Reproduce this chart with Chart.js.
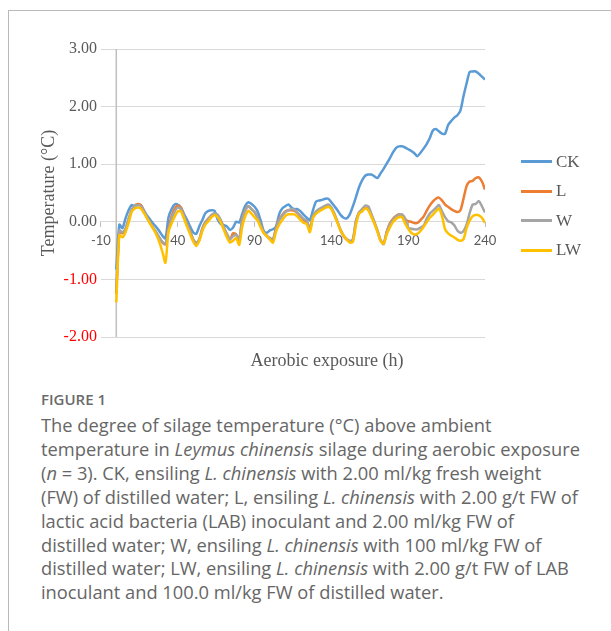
<!DOCTYPE html>
<html>
<head>
<meta charset="utf-8">
<script src="https://cdn.jsdelivr.net/npm/chart.js@4.4.1/dist/chart.umd.min.js"></script>
<style>
  html, body { margin: 0; padding: 0; background: #fff; width: 611px; height: 631px; overflow: hidden; }
  #frame { position: absolute; left: 8px; top: 10px; width: 800px; height: 800px;
           border-left: 1px solid #b9b9b9; border-top: 1px solid #b9b9b9; }
  #chart { position: absolute; left: 0; top: 0; }
  #legend { position: absolute; left: 521px; top: 147px; font-family: "Liberation Serif", serif;
            font-size: 17px; color: #595959; }
  .row { height: 29.5px; display: flex; align-items: center; }
  .swatch { width: 31px; height: 3px; margin-right: 4px; }
  #xTitle { position: absolute; left: 227px; width: 200px; top: 349px; text-align: center;
            font-family: "Liberation Serif", serif; font-size: 18px; line-height: 22px; color: #595959; }
  #caption { position: absolute; left: 41px; top: 389px; font-family: "Open Sans", sans-serif; white-space: nowrap; }
  #caption .fig { font-size: 15px; font-weight: 600; line-height: 20px; color: #6b6b6b; }
  #caption .txt { margin-top: 4px; font-size: 18.3px; line-height: 23.9px; color: #666; }
</style>
</head>
<body>
<div id="frame"></div>
<canvas id="chart" width="611" height="380"></canvas>
<div id="legend"></div>
<div id="xTitle">Aerobic exposure (h)</div>
<div id="caption">
  <div class="fig">FIGURE 1</div>
  <div class="txt">
    The degree of silage temperature (°C) above ambient<br>
    temperature in <i>Leymus chinensis</i> silage during aerobic exposure<br>
    (<i>n</i> = 3). CK, ensiling <i>L. chinensis</i> with 2.00 ml/kg fresh weight<br>
    (FW) of distilled water; L, ensiling <i>L. chinensis</i> with 2.00 g/t FW of<br>
    lactic acid bacteria (LAB) inoculant and 2.00 ml/kg FW of<br>
    distilled water; W, ensiling <i>L. chinensis</i> with 100 ml/kg FW of<br>
    distilled water; LW, ensiling <i>L. chinensis</i> with 2.00 g/t FW of LAB<br>
    inoculant and 100.0 ml/kg FW of distilled water.
  </div>
</div>
<script>
const hours = [
  0,2,4,6,8,10,12,14,16,18,
  20,22,24,26,28,30,32,34,36,38,
  40,42,44,46,48,50,52,54,56,58,
  60,62,64,66,68,70,72,74,76,78,
  80,82,84,86,88,90,92,94,96,98,
  100,102,104,106,108,110,112,114,116,118,
  120,122,124,126,128,130,132,134,136,138,
  140,142,144,146,148,150,152,154,156,158,
  160,162,164,166,168,170,172,174,176,178,
  180,182,184,186,188,190,192,194,196,198,
  200,202,204,206,208,210,212,214,216,218,
  220,222,224,226,228,230,232,234,236,238,
  240
];

const ckTemp = [
  -0.83,-0.05,-0.11,0.06,0.20,0.29,0.27,0.29,0.29,0.20,
  0.11,0.04,-0.03,-0.09,-0.16,-0.24,-0.29,0.08,0.22,0.30,
  0.30,0.25,0.14,0.04,-0.08,-0.18,-0.21,-0.08,0.03,0.15,
  0.19,0.20,0.19,0.04,-0.04,-0.06,-0.08,-0.14,-0.10,0.00,
  -0.01,0.14,0.28,0.34,0.31,0.26,0.18,0.02,-0.16,-0.19,
  -0.15,-0.13,-0.08,0.13,0.23,0.27,0.30,0.25,0.22,0.22,
  0.18,0.12,0.07,0.03,0.20,0.35,0.37,0.38,0.40,0.40,
  0.34,0.27,0.20,0.12,0.07,0.06,0.13,0.27,0.43,0.60,
  0.72,0.80,0.82,0.82,0.79,0.76,0.84,0.92,1.01,1.10,
  1.20,1.28,1.31,1.31,1.29,1.26,1.23,1.19,1.14,1.20,
  1.27,1.35,1.45,1.58,1.61,1.57,1.53,1.53,1.68,1.75,
  1.81,1.85,1.93,2.18,2.40,2.60,2.61,2.61,2.57,2.52,
  2.47
];

const lTemp = [
  -1.25,-0.17,-0.20,-0.13,0.04,0.20,0.28,0.31,0.29,0.18,
  0.07,-0.02,-0.11,-0.19,-0.28,-0.36,-0.39,-0.12,0.10,0.23,
  0.28,0.25,0.10,-0.04,-0.16,-0.31,-0.36,-0.32,-0.12,0.00,
  0.06,0.11,0.14,0.11,0.02,-0.10,-0.22,-0.31,-0.20,-0.22,
  -0.33,0.06,0.21,0.27,0.22,0.17,0.07,-0.06,-0.19,-0.25,
  -0.30,-0.32,-0.10,0.04,0.12,0.18,0.20,0.20,0.19,0.15,
  0.09,0.03,0.00,-0.13,0.08,0.16,0.20,0.23,0.26,0.28,
  0.23,0.12,-0.01,-0.15,-0.25,-0.31,-0.34,-0.32,0.00,0.16,
  0.21,0.24,0.22,0.11,-0.02,-0.16,-0.32,-0.37,-0.18,-0.03,
  0.05,0.10,0.13,0.10,0.04,0.01,0.00,-0.02,-0.02,0.03,
  0.09,0.19,0.28,0.35,0.40,0.42,0.37,0.30,0.26,0.22,
  0.19,0.17,0.20,0.40,0.62,0.70,0.71,0.76,0.77,0.70,
  0.56
];

const wTemp = [
  -1.20,-0.15,-0.18,-0.12,0.05,0.20,0.28,0.29,0.27,0.18,
  0.08,-0.02,-0.10,-0.18,-0.27,-0.35,-0.38,-0.15,0.05,0.18,
  0.25,0.22,0.10,-0.04,-0.16,-0.30,-0.37,-0.30,-0.12,-0.01,
  0.05,0.12,0.15,0.12,0.03,-0.10,-0.21,-0.30,-0.25,-0.22,
  -0.30,0.05,0.20,0.27,0.22,0.17,0.07,-0.06,-0.18,-0.24,
  -0.28,-0.30,-0.12,0.03,0.10,0.17,0.20,0.22,0.21,0.16,
  0.10,0.05,0.02,-0.12,0.10,0.18,0.22,0.25,0.28,0.30,
  0.25,0.14,0.00,-0.14,-0.24,-0.30,-0.33,-0.30,0.02,0.16,
  0.22,0.28,0.27,0.14,0.00,-0.15,-0.32,-0.39,-0.18,-0.05,
  0.03,0.09,0.12,0.13,0.06,-0.10,-0.12,-0.13,-0.13,-0.10,
  -0.07,0.05,0.14,0.19,0.24,0.29,0.18,0.08,0.01,-0.01,
  -0.06,-0.15,-0.19,-0.16,-0.05,0.15,0.30,0.31,0.36,0.27,
  0.16
];

const lwTemp = [
  -1.40,-0.23,-0.27,-0.18,-0.02,0.17,0.23,0.25,0.23,0.15,
  0.06,-0.03,-0.12,-0.22,-0.35,-0.52,-0.71,-0.17,-0.03,0.09,
  0.18,0.18,0.06,-0.08,-0.21,-0.34,-0.42,-0.33,-0.16,-0.05,
  0.01,0.08,0.12,0.08,-0.01,-0.14,-0.27,-0.36,-0.33,-0.28,
  -0.40,-0.08,0.10,0.19,0.14,0.08,0.02,-0.10,-0.20,-0.25,
  -0.31,-0.36,-0.17,-0.05,0.03,0.10,0.13,0.13,0.13,0.09,
  0.03,-0.02,-0.04,-0.18,0.06,0.14,0.18,0.21,0.24,0.26,
  0.22,0.11,-0.02,-0.15,-0.24,-0.31,-0.36,-0.35,-0.05,0.14,
  0.18,0.23,0.20,0.09,-0.03,-0.17,-0.33,-0.38,-0.22,-0.10,
  -0.01,0.05,0.08,0.08,-0.03,-0.12,-0.19,-0.22,-0.21,-0.16,
  -0.09,-0.01,0.07,0.12,0.18,0.23,0.10,-0.13,-0.20,-0.24,
  -0.27,-0.31,-0.33,-0.30,-0.11,0.02,0.10,0.12,0.11,0.07,
  -0.02
];

const seriesNames = ["CK", "L", "W", "LW"];
const seriesColors = ["#5B9BD5", "#ED7D31", "#A5A5A5", "#FFC000"];
const seriesValues = [ckTemp, lTemp, wTemp, lwTemp];
const xTickValues = [-10, 40, 90, 140, 190, 240];

// Excel-style vertical axis line drawn where x = 0
const zeroAxisLine = {
  id: "zeroAxisLine",
  beforeDatasetsDraw(chart){
    const { ctx, chartArea, scales } = chart;
    const x = scales.x.getPixelForValue(0);
    ctx.save();
    ctx.strokeStyle = "#BFBFBF";
    ctx.lineWidth = 1.5;
    ctx.beginPath();
    ctx.moveTo(x, chartArea.top);
    ctx.lineTo(x, chartArea.bottom);
    ctx.stroke();
    ctx.restore();
  }
};

const datasets = seriesNames.map((name, i) => ({
  label: name,
  data: hours.map((h, j) => ({ x: h, y: seriesValues[i][j] })),
  borderColor: seriesColors[i],
  backgroundColor: seriesColors[i],
  order: seriesNames.length - 1 - i
}));

new Chart(document.getElementById("chart"), {
  type: "line",
  data: { datasets },
  options: {
    responsive: false,
    animation: false,
    layout: { padding: { left: 38, top: 49, right: 126, bottom: 43 } },
    plugins: { legend: { display: false }, tooltip: { enabled: false } },
    elements: {
      point: { radius: 0 },
      line: { borderWidth: 2.5, tension: 0.25 }
    },
    scales: {
      x: {
        type: "linear",
        min: -10,
        max: 240,
        position: { y: 0 },
        afterBuildTicks: s => { s.ticks = xTickValues.map(v => ({ value: v })); },
        grid: { drawOnChartArea: false, drawTicks: true, tickLength: 5, color: "#BFBFBF" },
        border: { color: "#D9D9D9" },
        ticks: { font: { family: "Lato", size: 13 }, color: "#595959", padding: 6,
                 maxRotation: 0, autoSkip: false }
      },
      y: {
        min: -2,
        max: 3,
        ticks: {
          stepSize: 1,
          callback: v => Number(v).toFixed(2),
          color: c => c.tick.value < 0 ? "#FF0000" : "#595959",
          font: { family: "Liberation Serif", size: 16 },
          padding: 4
        },
        grid: { color: "#D9D9D9", drawTicks: false },
        border: { display: false },
        title: {
          display: true,
          text: "Temperature (°C)",
          color: "#595959",
          font: { family: "Liberation Serif", size: 18 },
          padding: { top: 0, bottom: 0 }
        }
      }
    }
  },
  plugins: [zeroAxisLine]
});

const legendEl = document.getElementById("legend");
seriesNames.forEach((name, i) => {
  const row = document.createElement("div");
  row.className = "row";
  const sw = document.createElement("span");
  sw.className = "swatch";
  sw.style.background = seriesColors[i];
  const tx = document.createElement("span");
  tx.textContent = name;
  row.appendChild(sw);
  row.appendChild(tx);
  legendEl.appendChild(row);
});
</script>
</body>
</html>
